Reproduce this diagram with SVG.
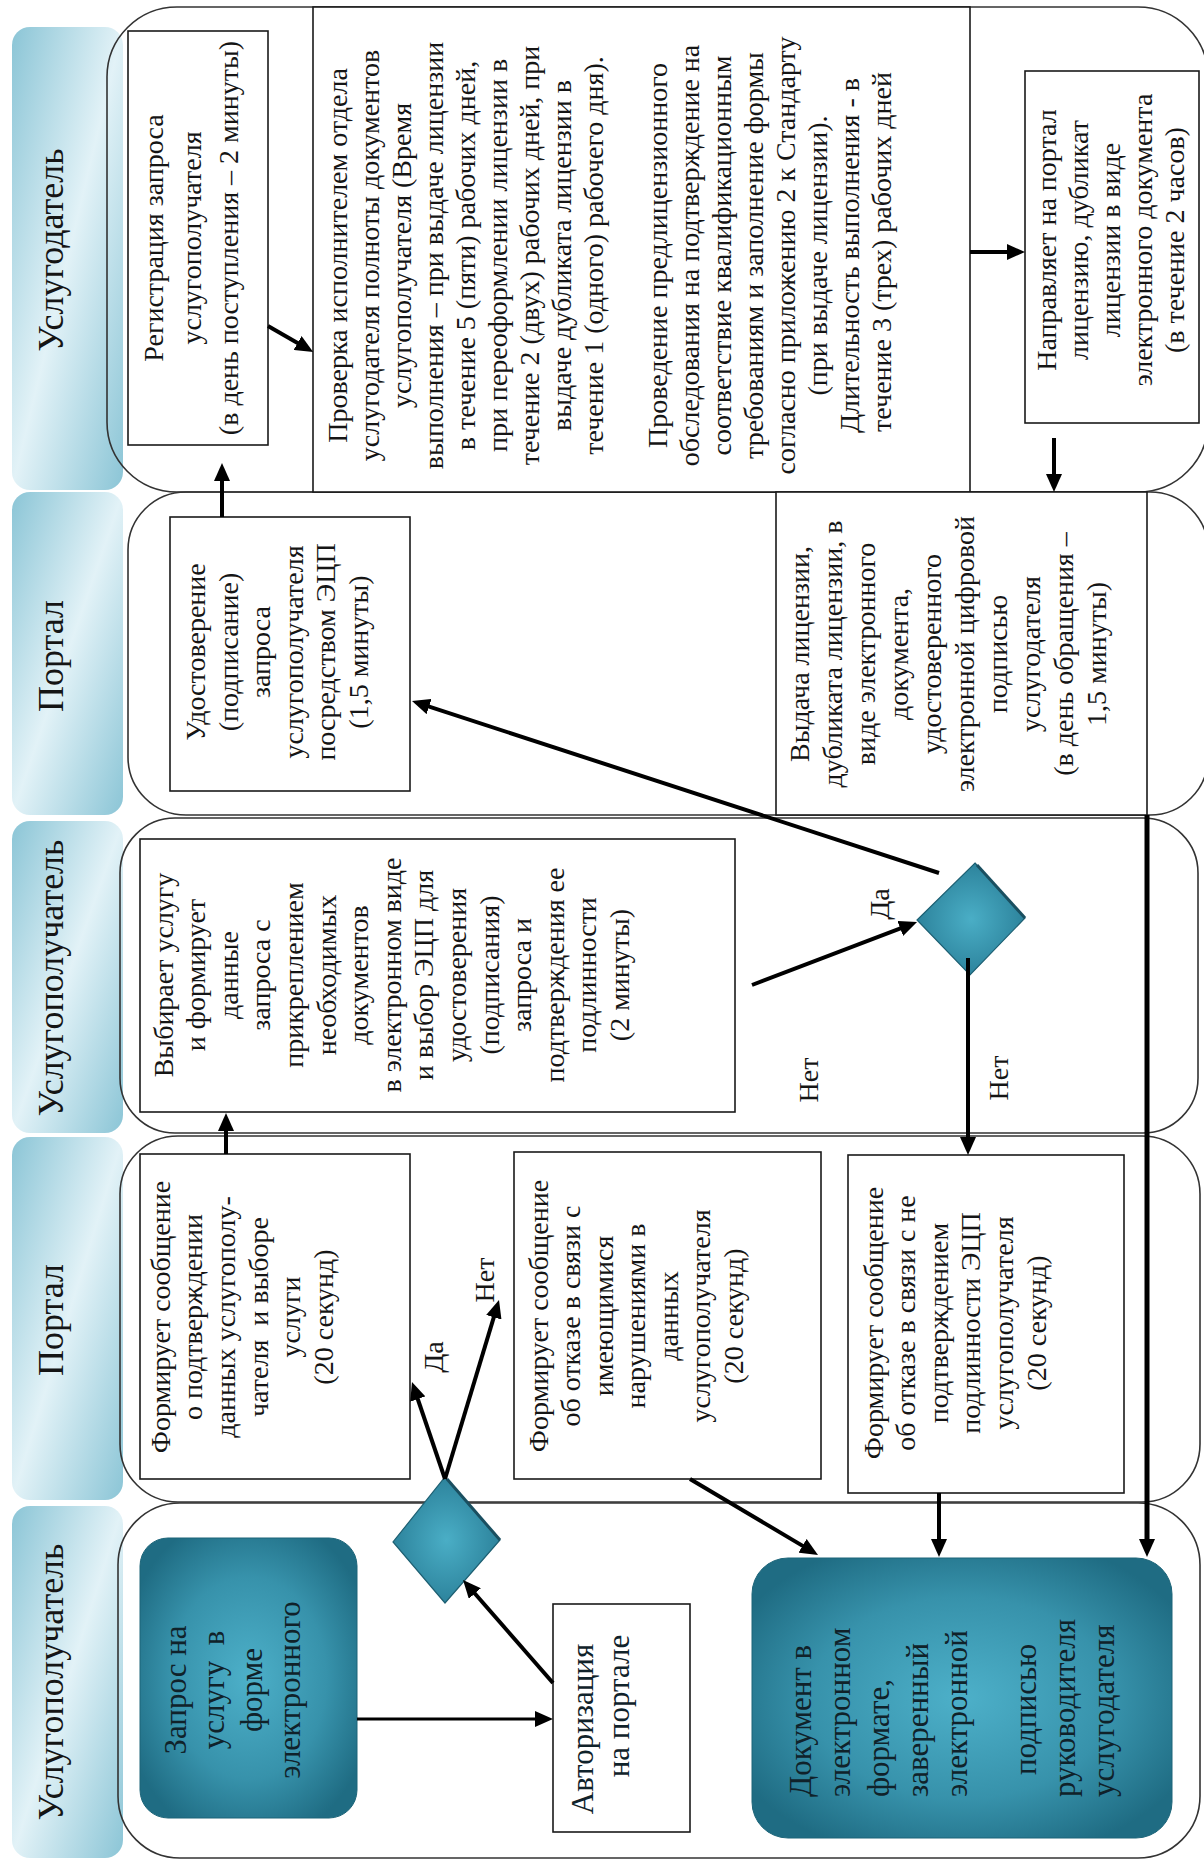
<svg xmlns="http://www.w3.org/2000/svg" width="1204" height="1866" viewBox="0 0 1204 1866">
<defs>
<linearGradient id="hdr" x1="0" y1="0" x2="1" y2="1">
<stop offset="0" stop-color="#8bc5d6"/>
<stop offset="0.5" stop-color="#e2f2f7"/>
<stop offset="1" stop-color="#8bc5d6"/>
</linearGradient>
<radialGradient id="teal" cx="0.5" cy="0.5" r="0.6">
<stop offset="0" stop-color="#4db0c9"/>
<stop offset="0.6" stop-color="#3792ab"/>
<stop offset="1" stop-color="#1f6c83"/>
</radialGradient>
<radialGradient id="dia" cx="0.5" cy="0.5" r="0.55">
<stop offset="0" stop-color="#4aaec6"/>
<stop offset="1" stop-color="#2a7f98"/>
</radialGradient>
<marker id="ah" markerUnits="userSpaceOnUse" viewBox="0 0 18 16" markerWidth="18" markerHeight="16" refX="8" refY="8" orient="auto">
<path d="M0,0 L18,8 L0,16 z" fill="#000"/>
</marker>
<style>
.t{font-family:"Liberation Serif","Times New Roman","DejaVu Serif",serif;font-size:28px;fill:#151515;text-anchor:middle}
.h{font-family:"Liberation Serif","Times New Roman","DejaVu Serif",serif;font-size:36px;fill:#151515;text-anchor:middle}
.b{font-family:"Liberation Serif","Times New Roman","DejaVu Serif",serif;font-size:31px;fill:#10222a;text-anchor:middle}
.bs{text-anchor:start}
.hd{fill:url(#hdr)}
.lane{fill:none;stroke:#333;stroke-width:1.6}
.box{fill:#fff;stroke:#1a1a1a;stroke-width:1.6}
.tl{fill:url(#teal);stroke:#1d6579;stroke-width:1}
.dm{fill:url(#dia);stroke:#1d5f72;stroke-width:1.2}
.c{stroke:#000;stroke-width:4;fill:none;marker-end:url(#ah)}
.pre{white-space:pre}
</style>
</defs>
<rect width="1204" height="1866" fill="#fff"/>

<g id="headers">
<g id="h1"><rect class="hd" x="12" y="27" width="111" height="463" rx="18"/><text class="h" transform="translate(0 250) rotate(-90)" x="0" y="63">Услугодатель</text></g>
<g id="h2"><rect class="hd" x="12" y="492" width="111" height="323" rx="18"/><text class="h" transform="translate(0 656) rotate(-90)" x="0" y="63">Портал</text></g>
<g id="h3"><rect class="hd" x="12" y="821" width="111" height="312" rx="18"/><text class="h" transform="translate(0 978) rotate(-90)" x="0" y="63">Услугополучатель</text></g>
<g id="h4"><rect class="hd" x="12" y="1137" width="111" height="363" rx="18"/><text class="h" transform="translate(0 1320) rotate(-90)" x="0" y="63">Портал</text></g>
<g id="h5"><rect class="hd" x="12" y="1506" width="111" height="352" rx="18"/><text class="h" transform="translate(0 1682) rotate(-90)" x="0" y="63">Услугополучатель</text></g>
</g>

<g id="lanes">
<rect class="lane" x="107" y="7" width="1101" height="485" rx="70"/>
<rect class="lane" x="128" y="492" width="1080" height="323" rx="58"/>
<rect class="lane" x="120" y="818" width="1078" height="315" rx="55"/>
<rect class="lane" x="120" y="1136" width="1080" height="366" rx="58"/>
<rect class="lane" x="118" y="1503" width="1082" height="355" rx="62"/>
</g>

<g id="nA"><rect class="box" x="128" y="31" width="140" height="414"/>
<text class="t" transform="translate(0 238) rotate(-90)"><tspan x="0" y="163">Регистрация запроса</tspan><tspan x="0" y="201">услугополучателя</tspan><tspan x="0" y="238">(в день поступления – 2 минуты)</tspan></text></g>

<g id="nB"><rect class="box" x="313" y="7" width="657" height="485"/>
<text class="t" transform="translate(0 252) rotate(-90)">
<tspan x="0" y="346.5">Проверка исполнителем отдела</tspan>
<tspan x="0" y="378.5">услугодателя полноты документов</tspan>
<tspan x="0" y="410.6">услугополучателя (Время</tspan>
<tspan x="0" y="442.6">выполнения – при выдаче лицензии</tspan>
<tspan x="0" y="474.7">в течение 5 (пяти) рабочих дней,</tspan>
<tspan x="0" y="506.7">при переоформлении лицензии в</tspan>
<tspan x="0" y="538.8">течение 2 (двух) рабочих дней, при</tspan>
<tspan x="0" y="570.8">выдаче дубликата лицензии в</tspan>
<tspan x="0" y="602.9">течение 1 (одного) рабочего дня).</tspan>
<tspan x="0" y="667">Проведение предлицензионного</tspan>
<tspan x="0" y="699">обследования на подтверждение на</tspan>
<tspan x="0" y="731.1">соответствие квалификационным</tspan>
<tspan x="0" y="763.1">требованиям и заполнение формы</tspan>
<tspan x="0" y="795.2">согласно приложению 2 к Стандарту</tspan>
<tspan x="0" y="827.2">(при выдаче лицензии).</tspan>
<tspan x="0" y="859.3">Длительность выполнения - в</tspan>
<tspan x="0" y="891.3">течение 3 (трех) рабочих дней</tspan>
</text></g>

<g id="nC"><rect class="box" x="1025" y="71" width="174" height="352"/>
<text class="t" transform="translate(0 240) rotate(-90)"><tspan x="0" y="1055.5">Направляет на портал</tspan><tspan x="0" y="1087.7">лицензию, дубликат</tspan><tspan x="0" y="1119.9">лицензии в виде</tspan><tspan x="0" y="1152.1">электронного документа</tspan><tspan x="0" y="1184.3">(в течение 2 часов)</tspan></text></g>

<g id="nE"><rect class="box" x="170" y="517" width="240" height="274"/>
<text class="t" transform="translate(0 652) rotate(-90)"><tspan x="0" y="205">Удостоверение</tspan><tspan x="0" y="237.5">(подписание)</tspan><tspan x="0" y="270">запроса</tspan><tspan x="0" y="302.5">услугополучателя</tspan><tspan x="0" y="335">посредством ЭЦП</tspan><tspan x="0" y="367.5">(1,5 минуты)</tspan></text></g>

<g id="nF"><rect class="box" x="776" y="492" width="371" height="323"/>
<text class="t" transform="translate(0 654) rotate(-90)"><tspan x="0" y="808.5">Выдача лицензии,</tspan><tspan x="0" y="841.5">дубликата лицензии, в</tspan><tspan x="0" y="874.5">виде электронного</tspan><tspan x="0" y="907.5">документа,</tspan><tspan x="0" y="940.5">удостоверенного</tspan><tspan x="0" y="973.5">электронной цифровой</tspan><tspan x="0" y="1006.5">подписью</tspan><tspan x="0" y="1039.5">услугодателя</tspan><tspan x="0" y="1072.5">(в день обращения –</tspan><tspan x="0" y="1105.5">1,5 минуты)</tspan></text></g>

<g id="nG"><rect class="box" x="140" y="839" width="595" height="273"/>
<text class="t" transform="translate(0 975) rotate(-90)"><tspan x="0" y="172.5">Выбирает услугу</tspan><tspan x="0" y="205.1">и формирует</tspan><tspan x="0" y="237.7">данные</tspan><tspan x="0" y="270.3">запроса с</tspan><tspan x="0" y="302.9">прикреплением</tspan><tspan x="0" y="335.5">необходимых</tspan><tspan x="0" y="368.1">документов</tspan><tspan x="0" y="400.7">в электронном виде</tspan><tspan x="0" y="433.3">и выбор ЭЦП для</tspan><tspan x="0" y="465.9">удостоверения</tspan><tspan x="0" y="498.5">(подписания)</tspan><tspan x="0" y="531.1">запроса и</tspan><tspan x="0" y="563.7">подтверждения ее</tspan><tspan x="0" y="596.3">подлинности</tspan><tspan x="0" y="628.9">(2 минуты)</tspan></text></g>

<g id="nH"><rect class="box" x="140" y="1154" width="270" height="325"/>
<text class="t" transform="translate(0 1317) rotate(-90)"><tspan x="0" y="169.5">Формирует сообщение</tspan><tspan x="0" y="202.2">о подтверждении</tspan><tspan x="0" y="234.9">данных услугополу-</tspan><tspan class="pre" x="0" y="267.6">чателя  и выборе</tspan><tspan x="0" y="300.3">услуги</tspan><tspan x="0" y="333">(20 секунд)</tspan></text></g>

<g id="nI"><rect class="box" x="514" y="1152" width="307" height="327"/>
<text class="t" transform="translate(0 1316) rotate(-90)"><tspan x="0" y="547.5">Формирует сообщение</tspan><tspan x="0" y="580">об отказе в связи с</tspan><tspan x="0" y="612.5">имеющимися</tspan><tspan x="0" y="645">нарушениями в</tspan><tspan x="0" y="677.5">данных</tspan><tspan x="0" y="710">услугополучателя</tspan><tspan x="0" y="742.5">(20 секунд)</tspan></text></g>

<g id="nJ"><rect class="box" x="848" y="1155" width="276" height="338"/>
<text class="t" transform="translate(0 1323) rotate(-90)"><tspan x="0" y="882.5">Формирует сообщение</tspan><tspan x="0" y="915.1">об отказе в связи с не</tspan><tspan x="0" y="947.7">подтверждением</tspan><tspan x="0" y="980.3">подлинности ЭЦП</tspan><tspan x="0" y="1012.9">услугополучателя</tspan><tspan x="0" y="1045.5">(20 секунд)</tspan></text></g>

<g id="nK"><rect class="tl" x="140" y="1538" width="217" height="280" rx="28"/>
<text class="b" transform="translate(0 1690) rotate(-90)"><tspan x="0" y="186">Запрос на</tspan><tspan class="pre" x="0" y="224">услугу  в</tspan><tspan x="0" y="262">форме</tspan><tspan x="0" y="300">электронного</tspan></text></g>

<g id="nL"><rect class="box" x="553" y="1604" width="137" height="228"/>
<text class="b" transform="rotate(-90)"><tspan x="-1729" y="593">Авторизация</tspan><tspan x="-1706" y="629">на портале</tspan></text></g>

<g id="nM"><rect class="tl" x="752" y="1558" width="420" height="280" rx="36"/>
<text class="b bs" transform="translate(0 1797) rotate(-90)"><tspan x="0" y="811">Документ в</tspan><tspan x="0" y="850">электронном</tspan><tspan x="0" y="889">формате,</tspan><tspan x="0" y="928">заверенный</tspan><tspan x="0" y="967">электронной</tspan><tspan x="22" y="1036">подписью</tspan><tspan x="0" y="1075">руководителя</tspan><tspan x="0" y="1114">услугодателя</tspan></text></g>

<g id="d1"><path class="dm" d="M445,1477 L500,1540 L445,1603 L393,1542 Z"/><path d="M447,1479 L500,1540" stroke="#1a4f60" stroke-width="3" fill="none"/></g>
<g id="d2"><path class="dm" d="M975,863 L1025,918 L970,975 L917,920 Z"/><path d="M977,865 L1025,918" stroke="#1a4f60" stroke-width="3" fill="none"/></g>

<g id="labels">
<text class="t" transform="rotate(-90)" x="-1357" y="443">Да</text>
<text class="t" transform="rotate(-90)" x="-1280" y="494">Нет</text>
<text class="t" transform="rotate(-90)" x="-904" y="889">Да</text>
<text class="t" transform="rotate(-90)" x="-1080" y="818">Нет</text>
<text class="t" transform="rotate(-90)" x="-1078" y="1008">Нет</text>
</g>

<g id="connectors">
<path class="c" style="stroke-width:3" d="M357,1719 L543,1719"/>
<path class="c" d="M553,1683 L469.6,1587.5"/>
<path class="c" d="M445,1479 L415.2,1391.5"/>
<path class="c" d="M445,1479 L496.1,1309.6"/>
<path class="c" d="M226,1154 L226,1123"/>
<path class="c" d="M752,985 L907.7,925.6"/>
<path class="c" d="M939,873 L421.5,704.1"/>
<path class="c" d="M968,958 L968,1145"/>
<path class="c" d="M222,517 L222,473"/>
<path class="c" d="M268,326 L304.5,347"/>
<path class="c" d="M970,252 L1015,252"/>
<path class="c" d="M1054,438 L1054,482"/>
<path class="c" style="stroke-width:5" d="M1147,815 L1147,1547"/>
<path class="c" d="M690,1479 L809.4,1549.9"/>
<path class="c" d="M939,1493 L939,1547"/>
</g>
</svg>
